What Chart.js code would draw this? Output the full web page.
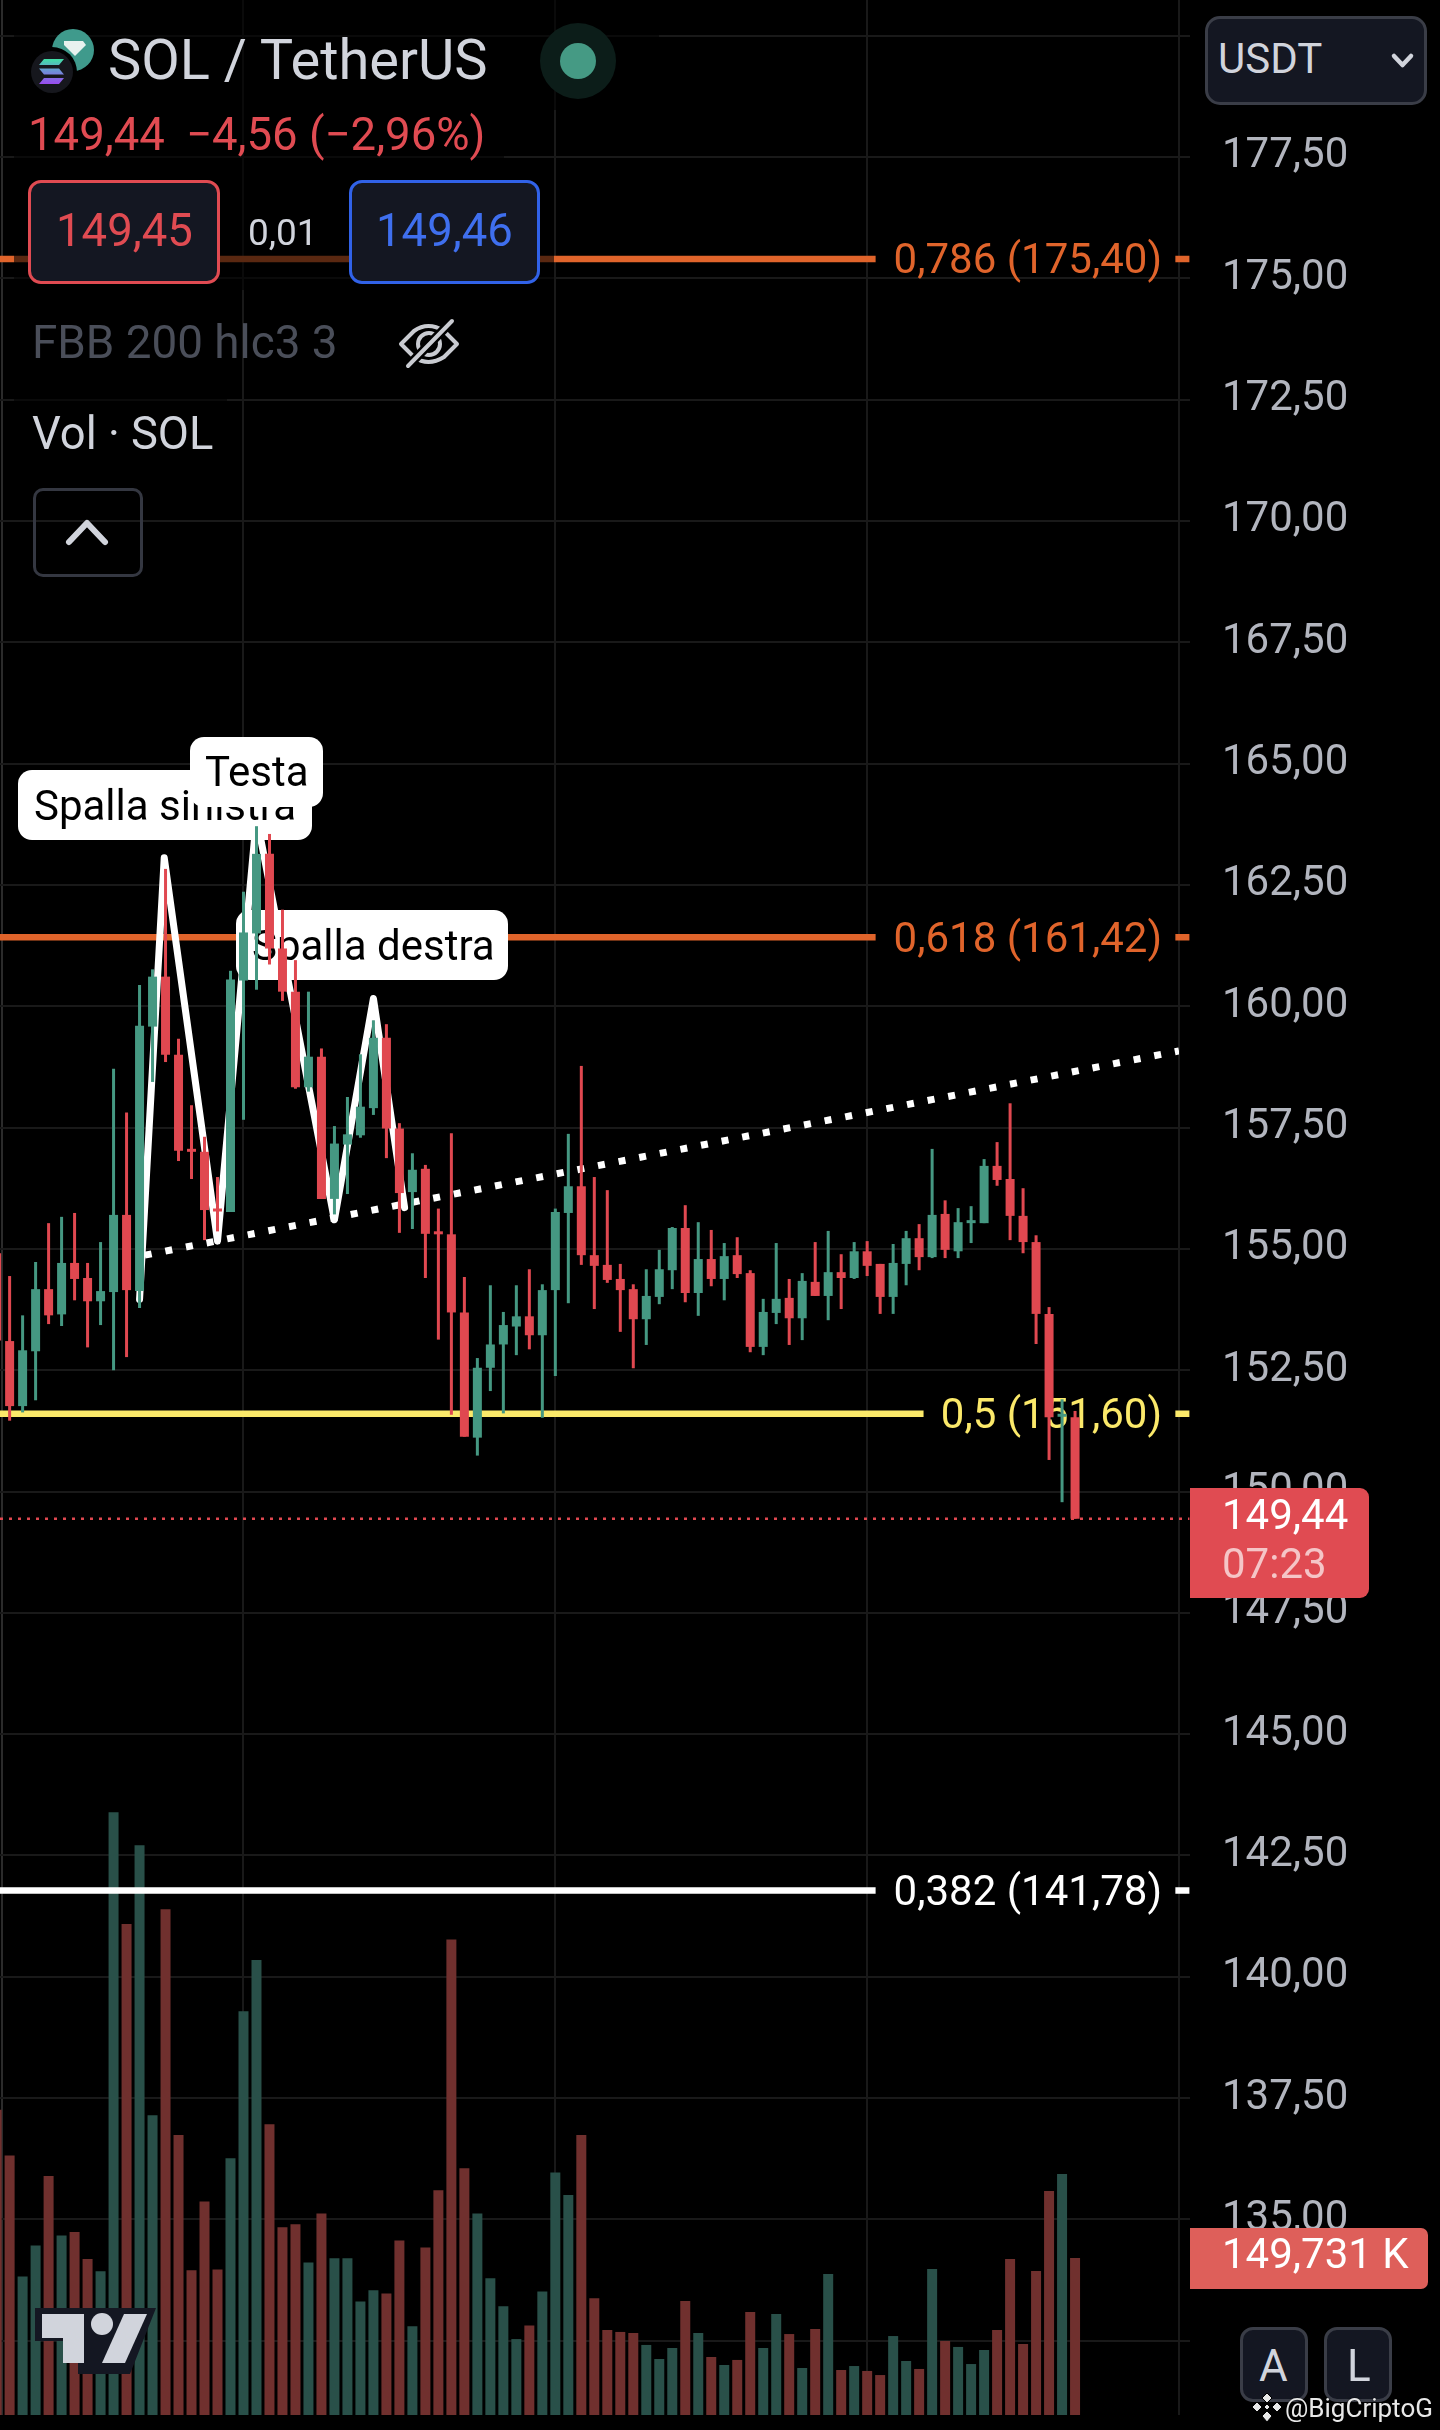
<!DOCTYPE html>
<html>
<head>
<meta charset="utf-8">
<title>SOL / TetherUS</title>
<script src="https://cdn.jsdelivr.net/npm/chart.js@4"></script>
<style>
  html, body { margin: 0; padding: 0; background: #000; }
  #wrap { position: relative; width: 1440px; height: 2430px; overflow: hidden; font-family: Roboto, sans-serif; }
  canvas { position: absolute; left: 0; top: 0; }
  .t { position: absolute; white-space: nowrap; line-height: 1; transform: translateY(-50%); }
  .box { position: absolute; box-sizing: border-box; }
  .chip { background: #141722; border-radius: 13px; border: 3px solid #3a3d47; }
  .fade { position: absolute; background: rgba(0,0,0,.6); }
  svg { position: absolute; overflow: visible; }
</style>
</head>
<body>
<div id="wrap">
  <div class="box" style="left:1px;top:0;width:2px;height:2415px;background:#2b2b2b"></div>
  <canvas id="chart" width="1440" height="2430"></canvas>

  <div class="fade" style="left:14px;top:0;width:645px;height:110px"></div>
  <div class="fade" style="left:14px;top:110px;width:490px;height:60px"></div>
  <div class="fade" style="left:14px;top:170px;width:540px;height:120px"></div>
  <div class="fade" style="left:14px;top:380px;width:213px;height:80px"></div>

  <svg style="left:0;top:0" width="140" height="110">
    <circle cx="73" cy="50" r="21" fill="#3f9a8c"/>
    <path d="M64 41h19l3 4-11 11-11-11z" fill="#e8f2ef"/>
    <circle cx="52" cy="72" r="25" fill="#000"/>
    <circle cx="52" cy="72" r="21" fill="#16171d"/>
    <defs><linearGradient id="sol" x1="0" y1="0" x2="0" y2="1">
      <stop offset="0" stop-color="#3fe0a5"/><stop offset=".5" stop-color="#6f8fd8"/><stop offset="1" stop-color="#9a4bf0"/>
    </linearGradient></defs>
    <path d="M44 59h20l-5 6H39zM39 68.500h20l5 6H44zM44 78h20l-5 6H39z" fill="url(#sol)"/>
  </svg>
  <div class="t" style="left:108px;top:60px;font-size:56px;color:#d1d4dc">SOL / TetherUS</div>

  <svg style="left:0;top:0" width="640" height="110">
    <circle cx="578" cy="61" r="38" fill="#0c1d19"/>
    <circle cx="578" cy="61" r="18" fill="#459a84"/>
  </svg>

  <div class="t" style="left:28px;top:135px;font-size:45.500px;color:#e04b52">149,44</div>
  <div class="t" style="left:186px;top:135px;font-size:45.500px;color:#e04b52">−4,56 (−2,96%)</div>

  <div class="box chip" style="left:28px;top:180px;width:192px;height:104px;border-color:#e04b52"></div>
  <div class="t" style="left:56px;top:231px;font-size:45.500px;color:#e04b52">149,45</div>
  <div class="t" style="left:248px;top:232px;font-size:37px;color:#d1d4dc">0,01</div>
  <div class="box chip" style="left:349px;top:180px;width:191px;height:104px;border-color:#3162e8"></div>
  <div class="t" style="left:376px;top:231px;font-size:45.500px;color:#3f6fee">149,46</div>

  <div class="t" style="left:32px;top:343px;font-size:45.800px;color:#4a4e59">FBB 200 hlc3 3</div>
  <svg style="left:398px;top:318px" width="62" height="52" fill="none" stroke="#c9cbd1" stroke-width="4" stroke-linecap="round" stroke-linejoin="round">
    <path d="M3 26 L16 13 Q30 3 46 13 L59 26 L46 39 Q30 49 16 39 Z"/>
    <circle cx="31" cy="26" r="11"/>
    <path d="M10 48 L54 3" stroke="#000" stroke-width="9"/>
    <path d="M10 48 L54 3"/>
  </svg>

  <div class="t" style="left:32px;top:434px;font-size:45.300px;color:#d1d4dc">Vol · SOL</div>
  <div class="box" style="left:33px;top:488px;width:110px;height:89px;border:3px solid #343741;border-radius:10px"></div>
  <svg style="left:60px;top:515px" width="60" height="36" fill="none" stroke="#d1d4dc" stroke-width="6" stroke-linecap="round" stroke-linejoin="round">
    <path d="M9 27 L27 8 L45 27"/>
  </svg>

  <div class="box chip" style="left:1205px;top:16px;width:222px;height:89px;border-radius:15px"></div>
  <div class="t" style="left:1218px;top:59px;font-size:42px;color:#d1d4dc">USDT</div>
  <svg style="left:1390px;top:52px" width="26" height="18" fill="none" stroke="#d1d4dc" stroke-width="4.500" stroke-linecap="round" stroke-linejoin="round">
    <path d="M4 4 L12.500 13 L21 4"/>
  </svg>

  <div class="box" style="left:1190px;top:1488px;width:179px;height:110px;background:#e04b52;border-radius:0 9px 9px 0"></div>
  <div class="t" style="left:1222px;top:1515px;font-size:42px;color:#fff">149,44</div>
  <div class="t" style="left:1222px;top:1564px;font-size:42px;color:rgba(255,255,255,.68)">07:23</div>

  <div class="box" style="left:1190px;top:2228px;width:238px;height:61px;background:#de5f5a;border-radius:0 7px 7px 0"></div>
  <div class="t" style="left:1222px;top:2254px;font-size:42px;color:#fff">149,731 K</div>

  <div class="box chip" style="left:1240px;top:2327px;width:68px;height:75px"></div>
  <div class="t" style="left:1259px;top:2366px;font-size:44px;color:#d1d4dc">A</div>
  <div class="box chip" style="left:1324px;top:2327px;width:68px;height:75px"></div>
  <div class="t" style="left:1347px;top:2366px;font-size:44px;color:#d1d4dc">L</div>

  <svg style="left:1251px;top:2391px" width="32" height="32" fill="#e8e8e8" stroke="#000" stroke-width="1">
    <path d="M16 2l5 5-5 5-5-5zM6 11l5 5-5 5-5-5zM26 11l5 5-5 5-5-5zM16 13l3 3-3 3-3-3zM16 20l5 5-5 6-5-6z"/>
  </svg>
  <div class="t" style="left:1285px;top:2408px;font-size:26px;color:#e8e8e8;text-shadow:0 0 2px #000">@BigCriptoG</div>

  <svg style="left:35px;top:2308px" width="122" height="66">
    <path d="M0 0H121L95 66H43V33H0Z" fill="#141722"/>
    <path d="M7 6H49V55H28V30H7Z" fill="#d1d4dc"/>
    <circle cx="67" cy="16" r="11" fill="#d1d4dc"/>
    <path d="M89 6H112L90 55H67Z" fill="#d1d4dc"/>
  </svg>
</div>

<script>
// candles, oldest first. first one is cut by the left edge of the screen
const opens = [154.91, 153.10, 151.76, 152.89, 154.17, 153.65, 154.71, 154.40, 153.92, 154.11, 155.70, 154.13, 159.58, 160.61, 159.00, 157.02, 157.00, 155.81, 155.76, 160.53, 161.50, 163.14, 161.19, 160.30, 158.33, 158.96, 156.03, 157.15, 157.34, 157.90, 159.35, 157.48, 156.17, 156.65, 155.34, 155.30, 153.69, 151.11, 152.55, 153.03, 153.40, 153.61, 153.22, 154.15, 155.74, 156.29, 154.87, 154.67, 154.38, 154.17, 153.55, 154.01, 154.56, 155.43, 154.09, 154.79, 154.38, 154.87, 154.50, 152.98, 153.68, 153.99, 153.57, 154.32, 154.03, 154.52, 154.40, 154.95, 154.69, 154.01, 154.69, 155.22, 154.83, 155.72, 154.95, 155.53, 155.53, 156.71, 156.44, 155.68, 155.14, 153.66, 151.54, 151.53];
const highs = [155.20, 154.44, 153.63, 154.73, 155.53, 155.66, 155.74, 154.71, 155.14, 158.71, 157.81, 160.44, 160.76, 162.83, 159.33, 157.96, 157.31, 156.48, 160.73, 162.36, 163.71, 163.55, 161.99, 160.95, 160.30, 159.13, 157.53, 158.13, 159.01, 159.71, 159.63, 157.59, 156.97, 156.73, 155.83, 157.38, 154.42, 152.75, 154.25, 153.70, 154.25, 154.58, 154.27, 155.83, 157.37, 158.77, 156.48, 156.21, 154.69, 154.27, 154.58, 154.98, 155.45, 155.90, 155.55, 155.39, 155.12, 155.24, 154.56, 153.97, 155.12, 154.38, 154.50, 155.14, 155.37, 154.89, 155.14, 155.16, 154.69, 155.10, 155.37, 155.51, 157.06, 156.00, 155.84, 155.88, 156.85, 157.20, 158.00, 156.25, 155.28, 153.80, 151.90, 151.66];
const lows = [152.80, 151.46, 151.63, 151.88, 153.45, 153.41, 153.94, 152.97, 153.43, 152.50, 152.77, 153.78, 158.44, 158.85, 156.81, 156.44, 155.18, 155.36, 155.76, 157.66, 160.34, 160.86, 160.11, 158.30, 158.24, 156.03, 155.71, 156.13, 157.29, 157.76, 156.87, 155.33, 155.41, 154.40, 153.13, 151.58, 151.13, 150.74, 152.07, 151.61, 152.81, 152.93, 151.52, 152.38, 153.88, 154.67, 153.76, 154.30, 153.29, 152.54, 153.02, 153.86, 154.17, 153.90, 153.62, 154.23, 153.94, 154.40, 152.87, 152.81, 153.45, 153.02, 153.12, 154.03, 153.53, 153.76, 154.38, 154.44, 153.66, 153.66, 154.25, 154.56, 154.81, 154.81, 154.81, 155.12, 155.53, 156.30, 155.18, 154.91, 153.04, 150.65, 149.78, 149.44];
const closes = [153.11, 151.76, 152.91, 154.17, 153.63, 154.71, 154.38, 153.92, 154.13, 155.70, 154.15, 159.60, 160.61, 159.00, 157.02, 157.00, 155.80, 155.77, 160.55, 161.52, 163.14, 161.19, 160.30, 158.33, 158.96, 156.03, 157.17, 157.36, 157.93, 159.35, 157.48, 156.15, 156.63, 155.31, 155.30, 153.69, 151.13, 152.55, 153.03, 153.43, 153.61, 153.22, 154.15, 155.76, 156.29, 154.87, 154.65, 154.36, 154.15, 153.55, 154.03, 154.58, 155.43, 154.09, 154.79, 154.38, 154.85, 154.48, 152.98, 153.70, 153.97, 153.57, 154.34, 154.03, 154.52, 154.40, 154.95, 154.65, 154.01, 154.71, 155.22, 154.83, 155.70, 154.98, 155.55, 155.56, 156.71, 156.42, 155.68, 155.14, 153.66, 151.53, 151.57, 149.44];
// volume in K SOL
const volumes = [291, 247.5, 132, 161.7, 227.8, 171.2, 174.4, 148.7, 137.2, 574.9, 468.2, 543.3, 285.9, 482.4, 266.9, 138, 203.6, 138.8, 244.8, 385.1, 433.8, 277.2, 179.1, 181.9, 145.5, 192.2, 149.5, 149.5, 108.3, 119, 115.9, 166.5, 84.6, 159.7, 214.3, 453.5, 235.3, 192.2, 130.5, 103.6, 72.4, 85.4, 117.8, 231.3, 209.7, 267, 111.4, 81.1, 79.2, 78.2, 66.8, 53.4, 63.9, 108.7, 78.2, 55.3, 47.7, 52.5, 98.2, 63.9, 96.3, 77.2, 44.8, 82, 134.5, 42.9, 46.7, 42, 38.1, 75.3, 51.5, 43.9, 139.2, 70.6, 64.9, 48.6, 62, 81.1, 148.8, 67.7, 137.3, 213.6, 229.8, 149.73];

const priceTicks = [132.5, 135, 137.5, 140, 142.5, 145, 147.5, 150, 152.5, 155, 157.5, 160, 162.5, 165, 167.5, 170, 172.5, 175, 177.5, 180];
const timeTicks = [18, 42, 66, 90];
const lastPrice = 149.44;

// fib levels and the bar index where each line stops before its label
const fibLevels = ["0,786", "0,618", "0,5", "0,382"];
const fibPrices = [175.40, 161.42, 151.60, 141.78];
const fibEnds = [66.65, 66.65, 70.34, 66.65];
const fibColors = ["#e0642b", "#e0642b", "#fbe96a", "#ffffff"];

// head and shoulders drawing
const hsX = [10, 11.9, 16, 19, 25, 28, 30.4];
const hsY = [153.96, 163.06, 155.16, 163.9, 155.6, 160.16, 155.85];
const neckX = [10.4, 90];
const neckY = [154.87, 159.08];

const calloutTexts = ["Spalla sinistra", "Testa", "Spalla destra"];

const UP = "#459882", DOWN = "#e04850";
const idx = opens.map((_, i) => i - 1);
const candleColors = opens.map((o, i) => (closes[i] >= o ? UP : DOWN));
const volColors = opens.map((o, i) => (closes[i] >= o ? "#295049" : "#70302e"));
const X_MIN = -0.74, X_MAX = 90, X_TAG = 90.8;

function fibData(i) {
  const p = fibPrices[i];
  return [{ x: X_MIN, y: p }, { x: fibEnds[i], y: p }, { x: fibEnds[i] + 1, y: null },
          { x: 89.72, y: p }, { x: X_TAG, y: p }];
}

const roundedRect = (ctx, x, y, w, h, r) => {
  ctx.beginPath();
  ctx.roundRect(x, y, w, h, r);
  ctx.fill();
};

// labels sit under the candles, so they go in between the datasets
const annotations = {
  id: "annotations",
  afterDatasetDraw(chart, args) {
    const ctx = chart.ctx;
    const name = chart.data.datasets[args.index].name;
    if (name === "fibs") {
      ctx.save();
      ctx.font = "42px Roboto";
      ctx.textAlign = "right";
      ctx.textBaseline = "middle";
      fibPrices.forEach((p, i) => {
        ctx.fillStyle = fibColors[i];
        const txt = `${fibLevels[i]} (${p.toFixed(2).replace(".", ",")})`;
        ctx.fillText(txt, 1162, chart.scales.y.getPixelForValue(p) + 4);
      });
      ctx.restore();
    }
    if (name === "neck") {
      ctx.save();
      ctx.font = "42px Roboto";
      ctx.textAlign = "left";
      ctx.textBaseline = "middle";
      const boxes = [[18, 770, 294, 70, 34, 809], [190, 737, 133, 70, 205, 775], [236, 910, 272, 70, 252, 949]];
      boxes.forEach((b, i) => {
        ctx.fillStyle = "#fff";
        roundedRect(ctx, b[0], b[1], b[2], b[3], 14);
        ctx.fillStyle = "#000";
        ctx.fillText(calloutTexts[i], b[4], b[5]);
      });
      ctx.restore();
    }
  }
};

const lineBase = { type: "line", pointRadius: 0, borderCapStyle: "butt", tension: 0, spanGaps: false };

// no room kept for half labels at the ends of the axes, the plot goes edge to edge
const noPadding = (s) => { s.paddingTop = s.paddingBottom = s.paddingLeft = s.paddingRight = 0; };

new Chart(document.getElementById("chart"), {
  data: {
    datasets: [
      { type: "bar", yAxisID: "v", order: 50, data: idx.map((x, i) => ({ x, y: volumes[i] })),
        backgroundColor: volColors, barThickness: 10, borderWidth: 0, inflateAmount: 0 },
      ...fibPrices.map((p, i) => ({ ...lineBase, order: 40 - i, name: i === 3 ? "fibs" : "fib", clip: false,
        data: fibData(i), borderColor: fibColors[i], borderWidth: 6.5 })),
      { ...lineBase, order: 30, name: "hs", data: hsX.map((x, i) => ({ x, y: hsY[i] })),
        borderColor: "#fff", borderWidth: 7, borderCapStyle: "round", borderJoinStyle: "round" },
      { ...lineBase, order: 29, name: "neck", data: neckX.map((x, i) => ({ x, y: neckY[i] })),
        borderColor: "#fff", borderWidth: 7, borderDash: [7, 14] },
      { ...lineBase, order: 28, clip: false, data: [{ x: X_MIN, y: lastPrice }, { x: X_TAG, y: lastPrice }],
        borderColor: DOWN, borderWidth: 2.5, borderDash: [3, 6] },
      { type: "bar", order: 20, data: idx.map((x, i) => ({ x, y: [lows[i], highs[i]] })),
        backgroundColor: candleColors, barThickness: 3, borderWidth: 0, inflateAmount: 0 },
      { type: "bar", order: 10, data: idx.map((x, i) => ({ x, y: [opens[i], closes[i]] })),
        backgroundColor: candleColors, barThickness: 9, minBarLength: 3, borderWidth: 0, inflateAmount: 0 }
    ]
  },
  options: {
    responsive: false,
    animation: false,
    devicePixelRatio: 1,
    layout: { padding: { left: 0, right: 0, top: 0, bottom: 15 } },
    plugins: { legend: { display: false }, tooltip: { enabled: false } },
    datasets: { bar: { grouped: false } },
    scales: {
      x: {
        type: "linear", min: X_MIN, max: X_MAX, offset: false,
        afterBuildTicks: (s) => { s.ticks = timeTicks.map((value) => ({ value })); },
        afterFit: (s) => { s.height = 0; noPadding(s); },
        ticks: { display: false },
        border: { display: false },
        grid: { color: "#191919", lineWidth: 2, drawTicks: false, offset: false }
      },
      y: {
        type: "linear", position: "right", min: 130.97, max: 180.735,
        afterBuildTicks: (s) => { s.ticks = priceTicks.map((value) => ({ value })); },
        afterFit: (s) => { s.width = 261; noPadding(s); },
        border: { display: false },
        grid: { color: "#191919", lineWidth: 2, tickLength: 11, tickColor: "#191919" },
        ticks: {
          color: "#b2b5be", padding: 32, labelOffset: 0, autoSkip: false, maxRotation: 0,
          font: { family: "Roboto", size: 42 },
          callback: (v) => (v < 135 || v > 177.5 ? "" : v.toFixed(2).replace(".", ","))
        }
      },
      v: { display: false, min: 0, max: 2303 }
    }
  },
  plugins: [annotations]
});
</script>
</body>
</html>
